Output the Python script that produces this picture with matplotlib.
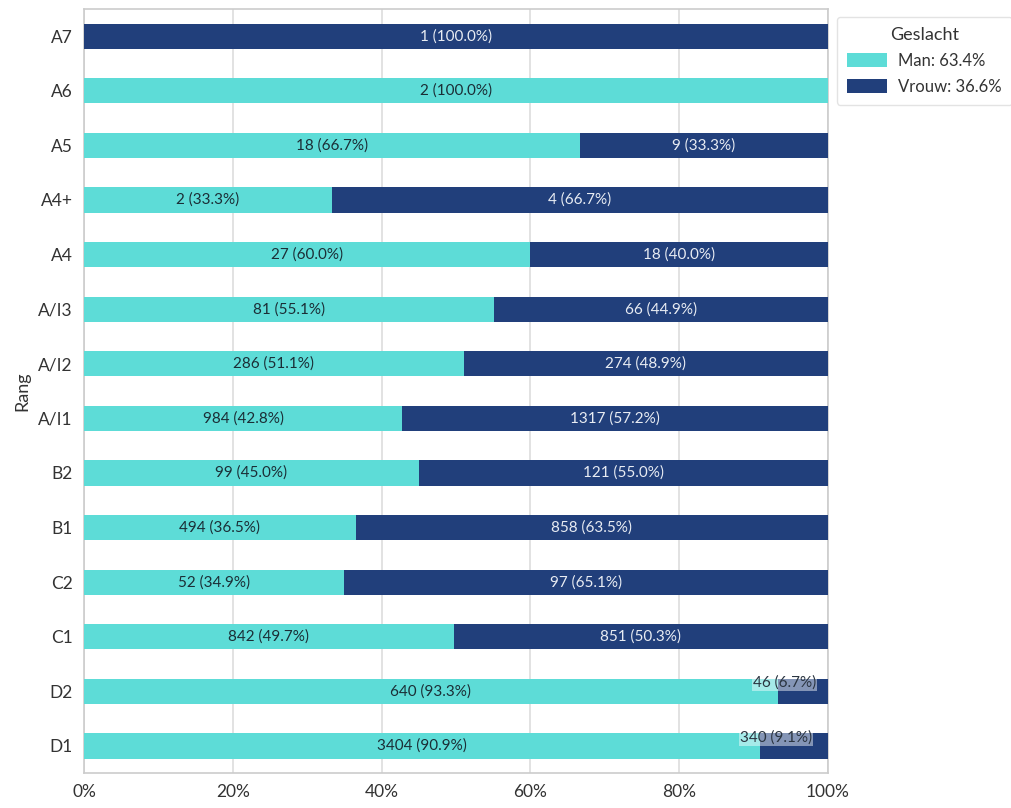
import matplotlib
matplotlib.use("Agg")
import matplotlib.pyplot as plt
import numpy as np

# rank categories, top to bottom
ranks = ["A7", "A6", "A5", "A4+", "A4", "A/I3", "A/I2", "A/I1",
         "B2", "B1", "C2", "C1", "D2", "D1"]
man = [0, 2, 18, 2, 27, 81, 286, 984, 99, 494, 52, 842, 640, 3404]
vrouw = [1, 0, 9, 4, 18, 66, 274, 1317, 121, 858, 97, 851, 46, 340]

MAN_COLOR = "#5ddcd7"
VROUW_COLOR = "#213f7b"

plt.rcParams["font.family"] = ["Lato", "DejaVu Sans"]

man = np.array(man, dtype=float)
vrouw = np.array(vrouw, dtype=float)
totals = man + vrouw
man_pct = man / totals * 100
vrouw_pct = vrouw / totals * 100
man_share = man.sum() / totals.sum() * 100
vrouw_share = vrouw.sum() / totals.sum() * 100

fig = plt.figure(figsize=(10.12, 8.08), dpi=100)
ax = fig.add_axes([0.083, 0.043, 0.735, 0.946])

y = np.arange(len(ranks))[::-1]
h = 0.46
ax.barh(y, man_pct, height=h, color=MAN_COLOR, label=f"Man: {man_share:.1f}%", zorder=3)
ax.barh(y, vrouw_pct, left=man_pct, height=h, color=VROUW_COLOR,
        label=f"Vrouw: {vrouw_share:.1f}%", zorder=3)


def put_label(x0, w, yy, count, pct, color):
    if count == 0:
        return
    txt = f"{int(count)} ({pct:.1f}%)"
    if pct < 10:
        # narrow segment: nudge label up-left with a faded box
        ax.annotate(txt, xy=(x0 + w / 2, yy), xytext=(-13, 6),
                    textcoords="offset points", ha="center", va="center",
                    fontsize=11, color="#2a3440", zorder=5,
                    bbox=dict(boxstyle="square,pad=0.05", fc="white",
                              ec="none", alpha=0.45))
    else:
        ax.text(x0 + w / 2, yy, txt, ha="center", va="center",
                fontsize=11, color=color, zorder=5)


for yy, mp, vp, mc, vc in zip(y, man_pct, vrouw_pct, man, vrouw):
    put_label(0, mp, yy, mc, mp, "#1b2e36")
    put_label(mp, vp, yy, vc, vp, "#e8ecf3")

ax.set_xlim(0, 100)
ax.set_ylim(-0.5, len(ranks) - 0.5)
ax.set_yticks(y)
ax.set_yticklabels(ranks)
ax.set_xticks(np.arange(0, 101, 20))
ax.set_xticklabels([f"{t}%" for t in range(0, 101, 20)])
ax.tick_params(axis="both", length=0, labelsize=12.5, colors="#333333", pad=8)
ax.set_ylabel("Rang", fontsize=13, color="#333333", labelpad=6)

ax.grid(axis="x", color="#dddddd", linewidth=1.2, zorder=0)
for s in ax.spines.values():
    s.set_color("#cccccc")
    s.set_linewidth(1.2)

leg = ax.legend(title="Geslacht", loc="upper left", bbox_to_anchor=(1.012, 0.99),
                fontsize=12, title_fontsize=13, frameon=True,
                handlelength=2.4, handleheight=0.9, handletextpad=0.7,
                labelspacing=0.6, borderpad=0.6, borderaxespad=0)
leg.get_frame().set_edgecolor("#dddddd")
for t in leg.get_texts():
    t.set_color("#333333")
leg.get_title().set_color("#333333")

fig.savefig("out.png", dpi=100)
